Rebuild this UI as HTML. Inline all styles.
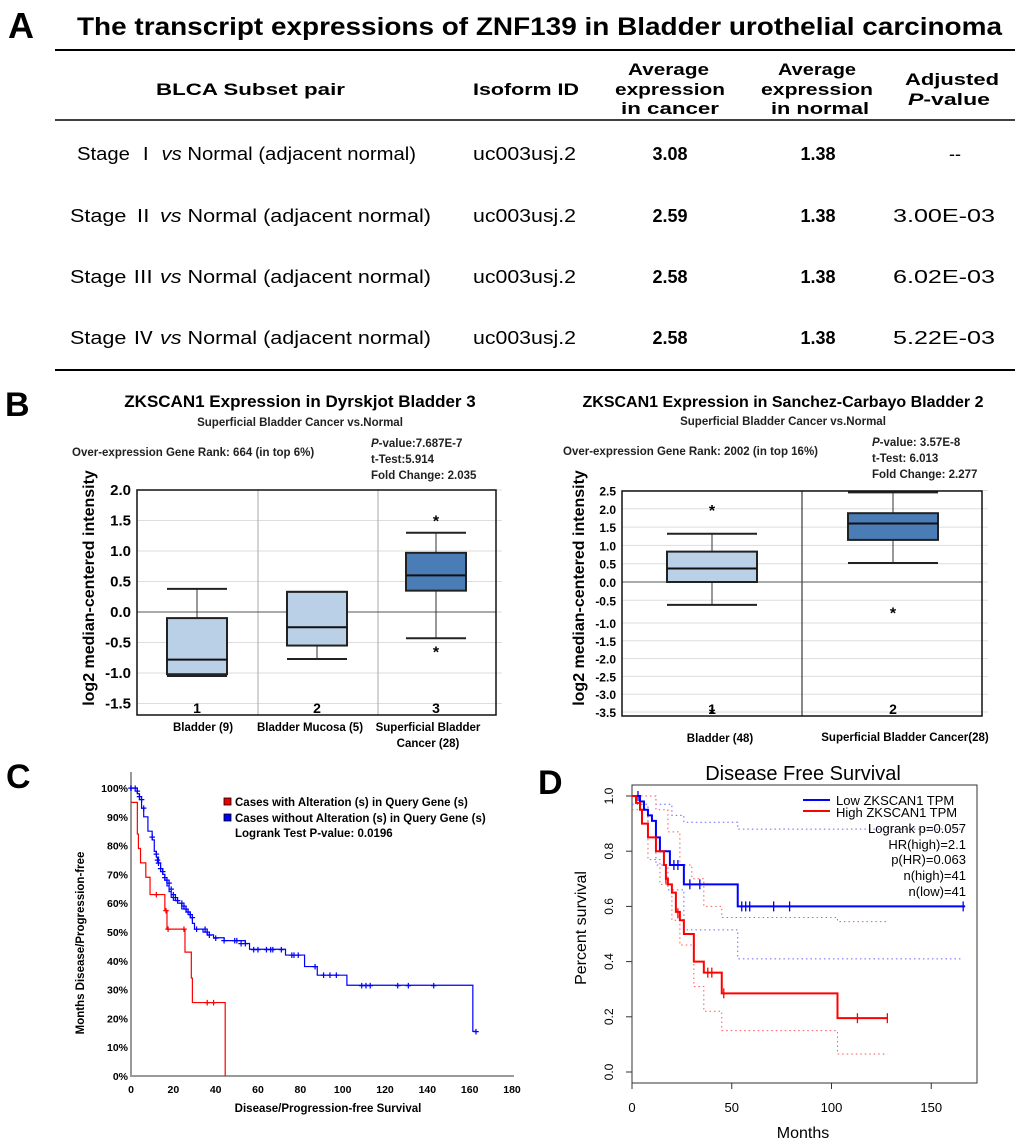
<!DOCTYPE html>
<html><head><meta charset="utf-8">
<style>
body{margin:0;background:#fff;}
svg{display:block;font-family:"Liberation Sans",Arial,sans-serif;}
.b{font-weight:bold;}
</style></head>
<body>
<svg id="fig" width="1020" height="1140" viewBox="0 0 1020 1140">
<!-- Panel A -->
<g>
<text x="8" y="38" font-size="36" class="b">A</text>
<text x="77" y="35" font-size="25" class="b" textLength="925" lengthAdjust="spacingAndGlyphs">The transcript expressions of ZNF139 in Bladder urothelial carcinoma</text>
<line x1="55" y1="50" x2="1015" y2="50" stroke="#000" stroke-width="2"/>
<g font-size="16.5" class="b">
<text x="156" y="95" textLength="189" lengthAdjust="spacingAndGlyphs">BLCA Subset pair</text>
<text x="473" y="95" textLength="106" lengthAdjust="spacingAndGlyphs">Isoform ID</text>
<text x="628" y="75" textLength="81" lengthAdjust="spacingAndGlyphs">Average</text>
<text x="615" y="95" textLength="110" lengthAdjust="spacingAndGlyphs">expression</text>
<text x="621" y="114" textLength="98" lengthAdjust="spacingAndGlyphs">in cancer</text>
<text x="778" y="75" textLength="78" lengthAdjust="spacingAndGlyphs">Average</text>
<text x="761" y="95" textLength="112" lengthAdjust="spacingAndGlyphs">expression</text>
<text x="771" y="114" textLength="98" lengthAdjust="spacingAndGlyphs">in normal</text>
<text x="905" y="85" textLength="94" lengthAdjust="spacingAndGlyphs">Adjusted</text>
<text x="908" y="105" textLength="82" lengthAdjust="spacingAndGlyphs"><tspan font-style="italic">P</tspan>-value</text>
</g>
<line x1="55" y1="120" x2="1015" y2="120" stroke="#000" stroke-width="1.5"/>
<g font-size="18" font-family="'Liberation Sans','Noto Sans CJK SC',sans-serif">
<text x="77" y="160" textLength="339" lengthAdjust="spacingAndGlyphs">Stage Ⅰ <tspan font-style="italic">vs</tspan> Normal (adjacent normal)</text>
<text x="70" y="222" textLength="361" lengthAdjust="spacingAndGlyphs">Stage Ⅱ <tspan font-style="italic">vs</tspan> Normal (adjacent normal)</text>
<text x="70" y="283" textLength="361" lengthAdjust="spacingAndGlyphs">Stage Ⅲ <tspan font-style="italic">vs</tspan> Normal (adjacent normal)</text>
<text x="70" y="344" textLength="361" lengthAdjust="spacingAndGlyphs">Stage Ⅳ <tspan font-style="italic">vs</tspan> Normal (adjacent normal)</text>
<text x="473" y="160" textLength="103" lengthAdjust="spacingAndGlyphs">uc003usj.2</text>
<text x="473" y="222" textLength="103" lengthAdjust="spacingAndGlyphs">uc003usj.2</text>
<text x="473" y="283" textLength="103" lengthAdjust="spacingAndGlyphs">uc003usj.2</text>
<text x="473" y="344" textLength="103" lengthAdjust="spacingAndGlyphs">uc003usj.2</text>
<g text-anchor="middle">
<text x="670" y="160" class="b">3.08</text><text x="670" y="222" class="b">2.59</text><text x="670" y="283" class="b">2.58</text><text x="670" y="344" class="b">2.58</text>
<text x="818" y="160" class="b">1.38</text><text x="818" y="222" class="b">1.38</text><text x="818" y="283" class="b">1.38</text><text x="818" y="344" class="b">1.38</text>
<text x="955" y="160">--</text>
</g>
<text x="893" y="222" textLength="102" lengthAdjust="spacingAndGlyphs">3.00E-03</text>
<text x="893" y="283" textLength="102" lengthAdjust="spacingAndGlyphs">6.02E-03</text>
<text x="893" y="344" textLength="102" lengthAdjust="spacingAndGlyphs">5.22E-03</text>
</g>
<line x1="55" y1="370" x2="1015" y2="370" stroke="#000" stroke-width="2"/>
</g>

<!-- Panel B left -->
<g>
<text x="5" y="416" font-size="34" class="b">B</text>
<text x="300" y="407" font-size="17" class="b" text-anchor="middle">ZKSCAN1  Expression in Dyrskjot Bladder 3</text>
<text x="300" y="426" font-size="11.5" class="b" text-anchor="middle" fill="#222">Superficial Bladder Cancer vs.Normal</text>
<text x="72" y="456" font-size="11.5" class="b" fill="#222">Over-expression Gene Rank: 664 (in top 6%)</text>
<text x="371" y="447" font-size="11.5" class="b" fill="#222"><tspan font-style="italic">P</tspan>-value:7.687E-7</text>
<text x="371" y="463" font-size="11.5" class="b" fill="#222">t-Test:5.914</text>
<text x="371" y="479" font-size="11.5" class="b" fill="#222">Fold Change: 2.035</text>
<text transform="translate(94,588) rotate(-90)" font-size="16" class="b" text-anchor="middle">log2 median-centered intensity</text>
<g id="bl"></g>
<text x="203" y="731" font-size="11.5" class="b" text-anchor="middle">Bladder (9)</text>
<text x="310" y="731" font-size="11.5" class="b" text-anchor="middle">Bladder Mucosa (5)</text>
<text x="428" y="731" font-size="11.5" class="b" text-anchor="middle">Superficial Bladder</text>
<text x="428" y="747" font-size="11.5" class="b" text-anchor="middle">Cancer (28)</text>
</g>

<!-- Panel B right -->
<g>
<text x="783" y="407" font-size="16" class="b" text-anchor="middle">ZKSCAN1  Expression in Sanchez-Carbayo Bladder 2</text>
<text x="783" y="425" font-size="11.5" class="b" text-anchor="middle" fill="#222">Superficial Bladder Cancer vs.Normal</text>
<text x="563" y="455" font-size="11.5" class="b" fill="#222">Over-expression Gene Rank: 2002 (in top 16%)</text>
<text x="872" y="446" font-size="11.5" class="b" fill="#222"><tspan font-style="italic">P</tspan>-value: 3.57E-8</text>
<text x="872" y="462" font-size="11.5" class="b" fill="#222">t-Test: 6.013</text>
<text x="872" y="478" font-size="11.5" class="b" fill="#222">Fold Change: 2.277</text>
<text transform="translate(584,588) rotate(-90)" font-size="16" class="b" text-anchor="middle">log2 median-centered intensity</text>
<g id="br"></g>
<text x="720" y="742" font-size="11.5" class="b" text-anchor="middle">Bladder (48)</text>
<text x="905" y="741" font-size="11.5" class="b" text-anchor="middle">Superficial Bladder Cancer(28)</text>
</g>

<!-- Panel C -->
<g>
<text x="6" y="788" font-size="34" class="b">C</text>
<g id="pc"></g>
<text x="328" y="1112" font-size="11.5" class="b" text-anchor="middle">Disease/Progression-free  Survival</text>
<text transform="translate(84,943) rotate(-90)" font-size="11.5" class="b" text-anchor="middle">Months Disease/Progression-free</text>
<rect x="224" y="798" width="7" height="7" fill="#e00" stroke="#000" stroke-width="0.8"/>
<rect x="224" y="814" width="7" height="7" fill="#00f" stroke="#000" stroke-width="0.8"/>
<g font-size="11.5" class="b">
<text x="235" y="806">Cases with Alteration (s) in Query Gene (s)</text>
<text x="235" y="822">Cases without Alteration (s) in Query Gene (s)</text>
<text x="235" y="837">Logrank Test P-value: 0.0196</text>
</g>
</g>

<!-- Panel D -->
<g>
<text x="538" y="794" font-size="34" class="b">D</text>
<text x="803" y="780" font-size="20" text-anchor="middle">Disease Free Survival</text>
<g id="pd"></g>
<text x="803" y="1138" font-size="16" text-anchor="middle">Months</text>
<text transform="translate(586,928) rotate(-90)" font-size="16" text-anchor="middle">Percent survival</text>
<line x1="803" y1="800" x2="830" y2="800" stroke="#00f" stroke-width="2"/>
<line x1="803" y1="811" x2="830" y2="811" stroke="#f00" stroke-width="2"/>
<g font-size="13">
<text x="836" y="805">Low ZKSCAN1 TPM</text>
<text x="836" y="817">High ZKSCAN1 TPM</text>
<g text-anchor="end">
<text x="966" y="833">Logrank p=0.057</text>
<text x="966" y="849">HR(high)=2.1</text>
<text x="966" y="864">p(HR)=0.063</text>
<text x="966" y="880">n(high)=41</text>
<text x="966" y="896">n(low)=41</text>
</g></g>
</g>
</svg>
<script>
// ---- Panel B left data
const blCats = ["1","2","3"];
const blWhiskHi = [0.38, 0.33, 1.30];
const blQ3 = [-0.10, 0.33, 0.97];
const blMed = [-0.78, -0.25, 0.60];
const blQ1 = [-1.02, -0.55, 0.35];
const blWhiskLo = [-1.05, -0.77, -0.43];
const blOutHi = [null, null, 1.55];
const blOutLo = [null, null, -0.60];
const blTicks = ["2.0","1.5","1.0","0.5","0.0","-0.5","-1.0","-1.5"];
// ---- Panel B right data
const brCats = ["1","2"];
const brWhiskHi = [1.32, 2.45];
const brQ3 = [0.83, 1.88];
const brMed = [0.37, 1.60];
const brQ1 = [0.0, 1.15];
const brWhiskLo = [-0.60, 0.52];
const brOutHi = [2.05, null];
const brOutLo = [-3.45, -0.70];
const brTicks = ["2.5","2.0","1.5","1.0","0.5","0.0","-0.5","-1.0","-1.5","-2.0","-2.5","-3.0","-3.5"];
// ---- Panel C data
const cTicksX = [0,20,40,60,80,100,120,140,160,180];
const cTicksY = [0,10,20,30,40,50,60,70,80,90,100];
const cRedT = [0,3,3.5,4.5,7,9,16,17,25,25.5,28.5,29,44.5];
const cRedS = [95,84,79,74,69,63,57.5,51,51,43,34,25.5,0];
const cRedCensT = [12,16.5,17.5,25,36,39];
const cRedCensS = [63,57.5,51,51,25.5,25.5];
const cBlueT = [0,3,4,5,6,8,10,11,12,13,14,15,16,17,18,19,20,22,24,26,28,29,30,34,36,39,44,54,56,73,82,88,102,161.5,163];
const cBlueS = [100,98,96,93,90,85,82,78,76,74,72,70,68,66,64,62,61,60,58,57,55,53,51,50,49,48,47,46,44,42,38,35,31.5,15.5,15.5];
const cBlueCensT = [0,2,3,4,5,6,10,12,12.5,13,14,15,16,17,18,19,20,21,22,24,25,26,27,28,29,31,35,36,37,40,44,49,50,52,54,58,60,64,66,67,71,76,77,79,87,91,94,97,109,111,113,126,131,143,163];
const cBlueCensS = [100,100,99,97,96,93,83,77,75,74,72,71,69,68,67,65,63,62,61,60,59,58,57,56,55,51,51,50,49,48,47,47,47,46,46,44,44,44,44,44,44,42,42,42,38,35,35,35,31.5,31.5,31.5,31.5,31.5,31.5,15.5];
// ---- Panel D data
const dTicksX = [0,50,100,150];
const dTicksY = [0,0.2,0.4,0.6,0.8,1.0];
const dLowT = [0,4,6,8,10,12,14,19,26,53,167];
const dLowS = [1,0.98,0.95,0.93,0.91,0.85,0.80,0.75,0.68,0.60,0.60];
const dLowCensT = [3,21,23,29,34,55,57,59,71,79,166];
const dLowCensS = [1,0.75,0.75,0.68,0.68,0.6,0.6,0.6,0.6,0.6,0.6];
const dHighT = [0,2,4,5,8,12,16,17,18,20,22,24,26,31,36,45,103,128];
const dHighS = [1,0.975,0.95,0.90,0.85,0.80,0.75,0.70,0.68,0.65,0.58,0.55,0.50,0.40,0.36,0.285,0.195,0.195];
const dHighCensT = [17,23,38,40,46,113,128];
const dHighCensS = [0.70,0.575,0.36,0.36,0.285,0.195,0.195];
const dLowUpT = [0,12,20,26,53,165];
const dLowUpS = [1,0.97,0.93,0.905,0.88,0.88];
const dLowLoT = [0,8,12,18,26,53,165];
const dLowLoS = [0.97,0.85,0.75,0.66,0.515,0.41,0.41];
const dHighUpT = [0,12,18,24,30,36,45,103,128];
const dHighUpS = [1,0.95,0.87,0.75,0.70,0.60,0.56,0.545,0.545];
const dHighLoT = [0,8,14,20,24,31,36,45,103,128];
const dHighLoS = [0.95,0.77,0.68,0.55,0.46,0.31,0.22,0.15,0.065,0.065];

const NS="http://www.w3.org/2000/svg";
function mk(parent,tag,attrs,txt){const e=document.createElementNS(NS,tag);for(const k in attrs)e.setAttribute(k,attrs[k]);if(txt!==undefined)e.textContent=txt;parent.appendChild(e);return e;}

function boxChart(g, cfg){
  const {L,T,R,B,yf,ticks,cats,cx,w,hi,q3,med,q1,lo,outHi,outLo,fill,dividers}=cfg;
  ticks.forEach(t=>{const y=yf(parseFloat(t));
    const gl=mk(g,'line',{x1:L,x2:R+6,y1:y,y2:y,stroke:'#ddd','stroke-width':1});
    
    
    const tl=mk(g,'text',{x:L-6,y:y+5,'font-size':cfg.tickSize,'font-weight':'bold','text-anchor':'end'},t);
    
    
  });
  dividers.forEach(x=>{const d=mk(g,'line',{x1:x,x2:x,y1:T,y2:B,stroke:cfg.divColor,'stroke-width':1});
    
    });
  const z=mk(g,'line',{x1:L,x2:R,y1:yf(0),y2:yf(0),stroke:'#555','stroke-width':1});
  
  
  cats.forEach((c,i)=>{
    const x=cx[i];
    const wl=mk(g,'line',{x1:x,x2:x,y1:yf(hi[i]),y2:yf(lo[i]),stroke:'#333','stroke-width':1});
    
    
    [hi[i],lo[i]].forEach(v=>{const cap=mk(g,'line',{x1:x-w/2,x2:x+w/2,y1:yf(v),y2:yf(v),stroke:'#222','stroke-width':2});
      
      });
    const bx=mk(g,'rect',{x:x-w/2,y:yf(q3[i]),width:w,height:yf(q1[i])-yf(q3[i]),fill:fill[i],stroke:'#222','stroke-width':2});
    
    
    const md=mk(g,'line',{x1:x-w/2,x2:x+w/2,y1:yf(med[i]),y2:yf(med[i]),stroke:'#111','stroke-width':2});
    
    
    [outHi[i],outLo[i]].forEach(v=>{if(v===null)return;
      const o=mk(g,'text',{x:x,y:yf(v)+9,'font-size':16,'font-weight':'bold','text-anchor':'middle'},'*');
      
      });
    const cl=mk(g,'text',{x:x,y:B-2,'font-size':14,'font-weight':'bold','text-anchor':'middle'},c);
    
    
  });
  const fr=mk(g,'rect',{x:L,y:T,width:R-L,height:B-T,fill:'none',stroke:'#111','stroke-width':1.5});
  
  
}
boxChart(document.getElementById('bl'),{L:137,T:490,R:496,B:715,
  yf:v=>612-v*61,ticks:blTicks,tickSize:15,cats:blCats,cx:[197,317,436],w:60,
  hi:blWhiskHi,q3:blQ3,med:blMed,q1:blQ1,lo:blWhiskLo,outHi:blOutHi,outLo:blOutLo,
  fill:['#bad0e7','#bad0e7','#4a7cb6'],dividers:[258,378],divColor:'#aaa'});
function yBr(v){ if(v>=-0.5) return 582-v*36.6; if(v>=-1) return 600.3+(-0.5-v)*2*22.7; return 623+(-1-v)*35.6; }
boxChart(document.getElementById('br'),{L:622,T:491,R:982,B:716,
  yf:yBr,ticks:brTicks,tickSize:12,cats:brCats,cx:[712,893],w:90,
  hi:brWhiskHi,q3:brQ3,med:brMed,q1:brQ1,lo:brWhiskLo,outHi:brOutHi,outLo:brOutLo,
  fill:['#bad0e7','#4a7cb6'],dividers:[802],divColor:'#111'});

function stepPath(xf,yf,T,S){let d='M'+xf(T[0])+' '+yf(S[0]);for(let i=1;i<T.length;i++){d+=' H'+xf(T[i])+' V'+yf(S[i]);}return d;}

// Panel C
(function(){
  const g=document.getElementById('pc');
  const xf=m=>131+m*381/180, yf=p=>1076-p*2.88;
  const ay=mk(g,'line',{x1:131,x2:131,y1:772,y2:1077,stroke:'#999','stroke-width':2});
  
  
  const ax=mk(g,'line',{x1:130,x2:514,y1:1076,y2:1076,stroke:'#999','stroke-width':2});
  
  
  cTicksY.forEach(p=>{const t=mk(g,'text',{x:128,y:yf(p)+4,'font-size':10.5,'font-weight':'bold','text-anchor':'end'},p+'%');
    
    });
  cTicksX.forEach(m=>{const t=mk(g,'text',{x:xf(m),y:1093,'font-size':10.5,'font-weight':'bold','text-anchor':'middle'},m);
    
    });
  const bl=mk(g,'path',{d:stepPath(xf,yf,cBlueT,cBlueS),fill:'none',stroke:'#00f','stroke-width':1.2});
  
  
  const rd=mk(g,'path',{d:stepPath(xf,yf,cRedT,cRedS),fill:'none',stroke:'#f00','stroke-width':1.2});
  
  
  cBlueCensT.forEach((t,i)=>{const c=mk(g,'text',{x:xf(t),y:yf(cBlueCensS[i])+4,'font-size':11,'font-weight':'bold',fill:'#00f','text-anchor':'middle'},'+');
    
    });
  cRedCensT.forEach((t,i)=>{const c=mk(g,'text',{x:xf(t),y:yf(cRedCensS[i])+4,'font-size':11,'font-weight':'bold',fill:'#f00','text-anchor':'middle'},'+');
    
    });
})();

// Panel D
(function(){
  const g=document.getElementById('pd');
  const xf=m=>632+m*1.995, yf=s=>1072-s*276;
  const fr=mk(g,'rect',{x:632,y:785,width:345,height:298,fill:'none',stroke:'#333','stroke-width':1});
  
  
  dTicksY.forEach(s=>{mk(g,'line',{x1:626,x2:632,y1:yf(s),y2:yf(s),stroke:'#333'});
    const t=mk(g,'text',{transform:`translate(613,${yf(s)}) rotate(-90)`,'font-size':12,'text-anchor':'middle'},s.toFixed(1));
    
    });
  dTicksX.forEach(m=>{mk(g,'line',{x1:xf(m),x2:xf(m),y1:1083,y2:1089,stroke:'#333'});
    const t=mk(g,'text',{x:xf(m),y:1112,'font-size':13,'text-anchor':'middle'},m);
    
    });
  [[dLowUpT,dLowUpS,'#66f'],[dLowLoT,dLowLoS,'#66f'],[dHighUpT,dHighUpS,'#f55'],[dHighLoT,dHighLoS,'#f55']].forEach(a=>{
    const p=mk(g,'path',{d:stepPath(xf,yf,a[0],a[1]),fill:'none',stroke:a[2],'stroke-width':1,'stroke-dasharray':'1.5 3'});
    
    });
  const bl=mk(g,'path',{d:stepPath(xf,yf,dLowT,dLowS),fill:'none',stroke:'#00f','stroke-width':2});
  
  
  const rd=mk(g,'path',{d:stepPath(xf,yf,dHighT,dHighS),fill:'none',stroke:'#f00','stroke-width':2});
  
  
  dLowCensT.forEach((t,i)=>{const c=mk(g,'line',{x1:xf(t),x2:xf(t),y1:yf(dLowCensS[i])-5,y2:yf(dLowCensS[i])+5,stroke:'#00f','stroke-width':1.3});
    
    });
  dHighCensT.forEach((t,i)=>{const c=mk(g,'line',{x1:xf(t),x2:xf(t),y1:yf(dHighCensS[i])-5,y2:yf(dHighCensS[i])+5,stroke:'#f00','stroke-width':1.3});
    
    });
})();
</script>
</body></html>
